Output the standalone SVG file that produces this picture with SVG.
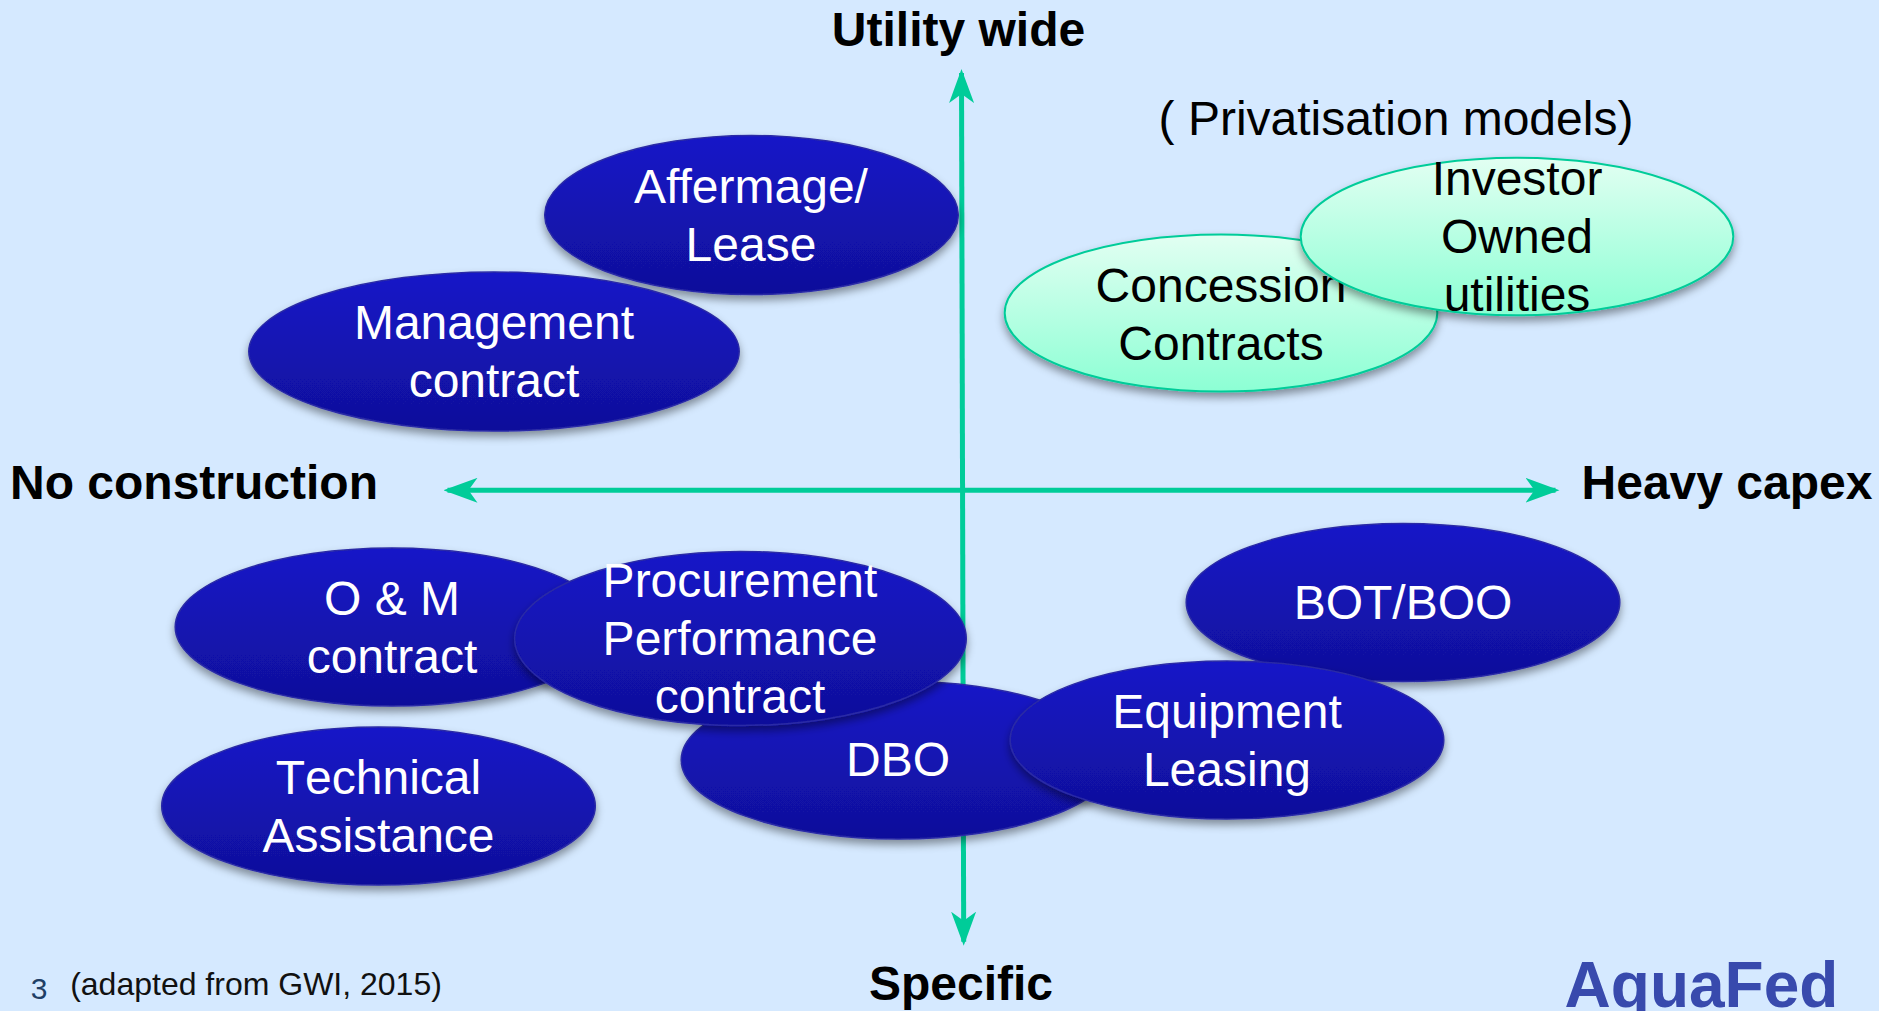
<svg xmlns="http://www.w3.org/2000/svg" width="1879" height="1011" viewBox="0 0 1879 1011">
<style>
text{font-family:"Liberation Sans",Arial,sans-serif;text-anchor:middle}
.b{fill:url(#blue);stroke:#2a2aa6;stroke-width:1.500;filter:url(#sh)}
.g{fill:url(#green);stroke:#00cc99;stroke-width:2;filter:url(#sh)}
.w{font-size:48px;fill:#fff}
.k{font-size:48px;fill:#000}
.h{font-size:48px;font-weight:bold;fill:#000}
.ax{stroke:#00cc99;stroke-width:5;fill:none;marker-start:url(#ar);marker-end:url(#ar)}
</style>
<defs>
<linearGradient id="blue" x1="0" y1="0" x2="0" y2="1"><stop offset="0" stop-color="#1616c8"/><stop offset="1" stop-color="#10109a"/></linearGradient>
<linearGradient id="green" x1="0" y1="0" x2="0" y2="1"><stop offset="0" stop-color="#e2fff2"/><stop offset="1" stop-color="#8cffd4"/></linearGradient>
<filter id="sh" x="-10%" y="-10%" width="120%" height="130%"><feDropShadow dx="0" dy="5" stdDeviation="4" flood-color="#000" flood-opacity="0.4"/></filter>
<marker id="ar" viewBox="0 0 34 25" refX="30" refY="12.500" markerWidth="34" markerHeight="25" markerUnits="userSpaceOnUse" orient="auto-start-reverse"><path d="M0 0L34 12.500L0 25L9 12.500Z" fill="#00cc99"/></marker>
</defs>
<rect width="1879" height="1011" fill="#d5e9ff"/>
<g id="connectors">
<path class="ax" d="M961.500 73L963.700 941.700"/>
<path class="ax" d="M447.500 490.300H1555.500"/>
</g>
<g id="affermage"><ellipse class="b" cx="751.500" cy="215" rx="206.800" ry="79.500"/><text class="w" x="751" y="203">Affermage/</text><text class="w" x="751" y="261">Lease</text></g>
<g id="management"><ellipse class="b" cx="494" cy="351.500" rx="245.200" ry="79.500"/><text class="w" x="494" y="339">Management</text><text class="w" x="494" y="397">contract</text></g>
<g id="concession"><ellipse class="g" cx="1221" cy="313" rx="216.300" ry="78.500"/><text class="k" x="1221" y="302">Concession</text><text class="k" x="1221" y="360">Contracts</text></g>
<g id="investor"><ellipse class="g" cx="1517" cy="236.500" rx="216.300" ry="78.800"/><text class="k" x="1517" y="195">Investor</text><text class="k" x="1517" y="253">Owned</text><text class="k" x="1517" y="311">utilities</text></g>
<g id="om"><ellipse class="b" cx="392" cy="627" rx="216.800" ry="79"/><text class="w" x="392" y="615">O &amp; M</text><text class="w" x="392" y="673">contract</text></g>
<g id="dbo"><ellipse class="b" cx="898" cy="760" rx="216.800" ry="79"/><text class="w" x="898" y="776">DBO</text></g>
<g id="procurement"><ellipse class="b" cx="740.500" cy="638.500" rx="225.800" ry="87"/><text class="w" x="740" y="597">Procurement</text><text class="w" x="740" y="655">Performance</text><text class="w" x="740" y="713">contract</text></g>
<g id="bot"><ellipse class="b" cx="1403" cy="602.500" rx="216.800" ry="79"/><text class="w" x="1403" y="619">BOT/BOO</text></g>
<g id="equipment"><ellipse class="b" cx="1227" cy="740" rx="216.800" ry="79"/><text class="w" x="1227" y="728">Equipment</text><text class="w" x="1227" y="786">Leasing</text></g>
<g id="technical"><ellipse class="b" cx="378.500" cy="806" rx="216.800" ry="79"/><text class="w" x="378.500" y="794" style="font-kerning:none">Technical</text><text class="w" x="378.500" y="852">Assistance</text></g>
<g id="labels">
<text class="h" x="958.500" y="46">Utility wide</text>
<text class="h" x="194" y="499">No construction</text>
<text class="h" x="1727" y="499">Heavy capex</text>
<text class="h" x="961" y="1000">Specific</text>
<text class="k" x="1396" y="135">( Privatisation models)</text>
<text x="39" y="999" style="font-size:30px;fill:#1f3f66">3</text>
<text x="256" y="995" style="font-size:32px;fill:#111">(adapted from GWI, 2015)</text>
<text x="1701.500" y="1007" style="font-size:64px;font-weight:bold;fill:#384aad">AquaFed</text>
</g>
</svg>
